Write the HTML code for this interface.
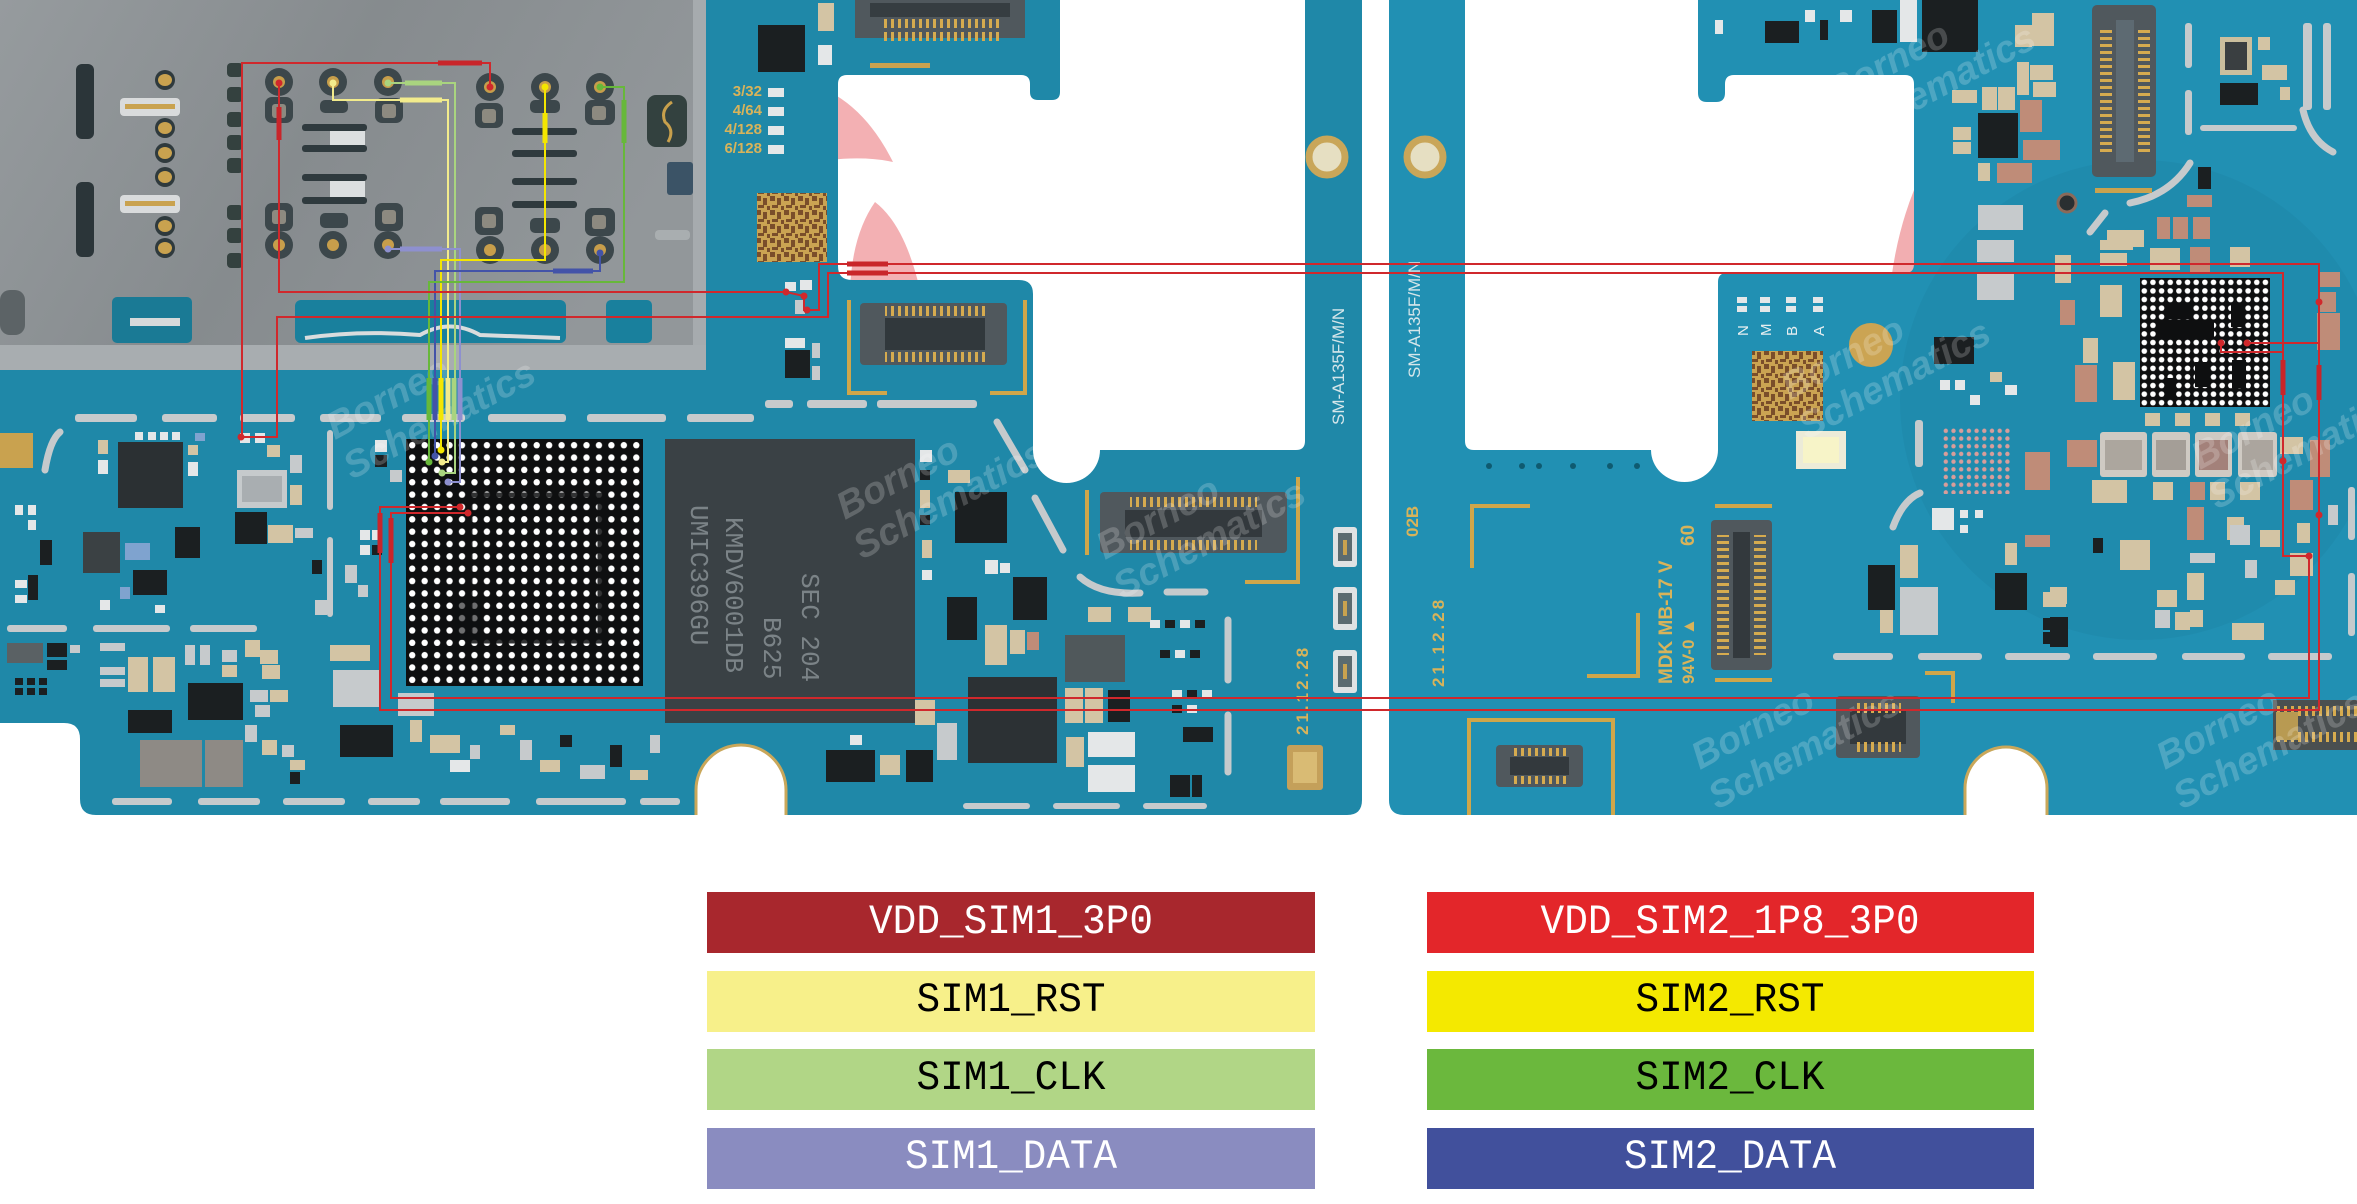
<!DOCTYPE html>
<html><head><meta charset="utf-8">
<style>
html,body{margin:0;padding:0;background:#fff;}
body{width:2357px;height:1204px;overflow:hidden;}
svg{display:block;}
.b{fill:#1b1f21}.g{fill:#3d4548}.s{fill:#c6cacc}.c{fill:#d3c4a4}.p{fill:#bf8c78}.w{fill:#e4e7e8}.au{fill:#c9a24f}.bl{fill:#7fa3cf}
.st{fill:none;stroke:#c6cacc;stroke-width:7;stroke-linecap:round}
.gb{fill:none;stroke:#cfa64a;stroke-width:4}
.silk{font-family:"Liberation Sans",sans-serif;fill:#d8b35a;font-weight:bold}
.wm{font-family:"Liberation Sans",sans-serif;font-weight:bold;font-style:italic;fill:#fff;opacity:0.2}
.lg{font-family:"Liberation Mono",monospace;font-size:42px;text-anchor:middle}
</style></head><body>
<svg width="2357" height="1204" viewBox="0 0 2357 1204" xmlns="http://www.w3.org/2000/svg">
<defs>
<pattern id="bga1" x="406" y="439" width="12.45" height="12.35" patternUnits="userSpaceOnUse"><circle cx="6.2" cy="6.2" r="3.2" fill="#fff"/></pattern>
<pattern id="bga2" x="2140" y="278" width="8.65" height="8.6" patternUnits="userSpaceOnUse"><circle cx="4.3" cy="4.3" r="2.8" fill="#fff"/></pattern>
<pattern id="pk" x="1942" y="427" width="7.7" height="7.7" patternUnits="userSpaceOnUse"><circle cx="3.8" cy="3.8" r="2.2" fill="#d99d9a"/></pattern>
<pattern id="pH" width="7" height="10" patternUnits="userSpaceOnUse"><rect x="2" width="3" height="10" fill="#d6ab4f"/></pattern>
<pattern id="pV" width="10" height="7" patternUnits="userSpaceOnUse"><rect y="2" width="10" height="3" fill="#d6ab4f"/></pattern>
<pattern id="qr" width="14" height="14" patternUnits="userSpaceOnUse"><rect width="14" height="14" fill="#caa352"/><rect width="5" height="5" fill="#7a4e2a"/><rect x="7" y="2" width="4" height="7" fill="#7a4e2a"/><rect x="2" y="9" width="6" height="3" fill="#7a4e2a"/><rect x="11" y="10" width="3" height="4" fill="#7a4e2a"/></pattern>
<linearGradient id="tray" x1="0" y1="0" x2="1" y2="0.3"><stop offset="0" stop-color="#969b9e"/><stop offset="0.5" stop-color="#868b8e"/><stop offset="1" stop-color="#92979a"/></linearGradient>
<clipPath id="rbc"><path d="M1389,0 H1465 V441 Q1465,450 1474,450 H1651 A33.5,32 0 0 0 1718,450 V282 Q1718,273 1727,273 H1905 Q1914,273 1914,264 V84 Q1914,75 1905,75 H1734 Q1725,75 1725,84 V93 Q1725,102 1716,102 H1707 Q1698,102 1698,93 V0 H2357 V815 H2047 V788 A41,41 0 0 0 1965,788 V815 H1404 Q1389,815 1389,800 Z"/></clipPath>
</defs>

<rect width="2357" height="1204" fill="#fff"/>

<!-- pink logo (visible in cutouts) -->
<path d="M830,92 Q868,112 893,162 Q865,156 830,160 Z" fill="#f3b0b3"/>
<path d="M850,290 Q852,235 875,202 Q905,225 920,290 Z" fill="#f3b0b3"/>
<path d="M1914,190 Q1894,240 1889,300 L1914,300 Z" fill="#f2aeb1"/>

<!-- boards -->
<path d="M0,0 H1060 V92 Q1060,100 1052,100 H1038 Q1030,100 1030,92 V84 Q1030,75 1021,75 H847 Q838,75 838,84 V266 Q838,280 852,280 H1019 Q1033,280 1033,294 V450 A33.5,33 0 0 0 1100,450 H1296 Q1305,450 1305,441 V0 H1362 V800 Q1362,815 1347,815 H786 V790 A45,45 0 0 0 696,790 V815 H96 Q80,815 80,799 V739 Q80,723 64,723 H0 Z" fill="#1f88a8"/>
<path d="M1389,0 H1465 V441 Q1465,450 1474,450 H1651 A33.5,32 0 0 0 1718,450 V282 Q1718,273 1727,273 H1905 Q1914,273 1914,264 V84 Q1914,75 1905,75 H1734 Q1725,75 1725,84 V93 Q1725,102 1716,102 H1707 Q1698,102 1698,93 V0 H2357 V815 H2047 V788 A41,41 0 0 0 1965,788 V815 H1404 Q1389,815 1389,800 Z" fill="#2190b3"/>
<g clip-path="url(#rbc)"><circle cx="2140" cy="400" r="240" fill="#063c52" opacity="0.05"/></g>
<path d="M786,815 V790 A45,45 0 0 0 696,790 V815" fill="none" stroke="#c9a75a" stroke-width="3"/>
<path d="M2047,815 V788 A41,41 0 0 0 1965,788 V815" fill="none" stroke="#c9a75a" stroke-width="3"/>

<!-- strip holes -->
<circle cx="1327" cy="157" r="18" fill="#e6dfc2" stroke="#c9a659" stroke-width="7"/>
<circle cx="1425" cy="157" r="18" fill="#e6dfc2" stroke="#c9a659" stroke-width="7"/>

<!-- SIM tray -->
<path d="M0,0 H706 V362 Q706,370 698,370 H0 Z" fill="url(#tray)"/>
<rect x="693" y="0" width="13" height="370" fill="#a6abae"/>
<rect x="0" y="345" width="706" height="25" fill="#a8adb0"/>
<rect x="295" y="300" width="271" height="43" rx="6" fill="#19809d"/>
<rect x="606" y="300" width="46" height="43" rx="5" fill="#19809d"/>
<rect x="112" y="297" width="80" height="46" rx="5" fill="#1a7a95"/>
<rect x="130" y="318" width="50" height="8" fill="#d6d9da"/>
<path d="M305,338 Q360,330 420,335 Q450,318 480,335 L560,338" fill="none" stroke="#d9dcdd" stroke-width="4"/>
<!-- left part of tray -->
<rect x="76" y="64" width="18" height="75" rx="6" fill="#2b3539"/>
<rect x="76" y="182" width="18" height="75" rx="6" fill="#2b3539"/>
<rect x="120" y="98" width="60" height="18" rx="4" fill="#d9dbdc"/><rect x="125" y="104" width="50" height="5" fill="#c9a24f"/>
<rect x="120" y="195" width="60" height="18" rx="4" fill="#d9dbdc"/><rect x="125" y="201" width="50" height="5" fill="#c9a24f"/>
<g fill="#2f3a3d"><circle cx="165" cy="80" r="10"/><circle cx="165" cy="128" r="10"/><circle cx="165" cy="153" r="10"/><circle cx="165" cy="177" r="10"/><circle cx="165" cy="226" r="10"/><circle cx="165" cy="248" r="10"/></g>
<g fill="#c9a24f"><ellipse cx="165" cy="80" rx="7" ry="6"/><ellipse cx="165" cy="128" rx="7" ry="6"/><ellipse cx="165" cy="153" rx="7" ry="6"/><ellipse cx="165" cy="177" rx="7" ry="6"/><ellipse cx="165" cy="226" rx="7" ry="6"/><ellipse cx="165" cy="248" rx="7" ry="6"/></g>
<g fill="#34413f"><rect x="227" y="63" width="16" height="14" rx="4"/><rect x="227" y="87" width="16" height="15" rx="4"/><rect x="227" y="112" width="16" height="15" rx="4"/><rect x="227" y="135" width="16" height="15" rx="4"/><rect x="227" y="158" width="16" height="15" rx="4"/><rect x="227" y="205" width="16" height="15" rx="4"/><rect x="227" y="228" width="16" height="15" rx="4"/><rect x="227" y="253" width="16" height="15" rx="4"/></g>
<rect x="0" y="290" width="25" height="45" rx="10" fill="#5c6366"/>
<!-- contact windows -->
<g fill="#3c474b">
<circle cx="279" cy="82" r="14"/><circle cx="333" cy="82" r="14"/><circle cx="388" cy="82" r="14"/><circle cx="490" cy="87" r="14"/><circle cx="545" cy="87" r="14"/><circle cx="600" cy="87" r="14"/>
<circle cx="279" cy="245" r="14"/><circle cx="333" cy="245" r="14"/><circle cx="388" cy="245" r="14"/><circle cx="490" cy="250" r="14"/><circle cx="545" cy="250" r="14"/><circle cx="600" cy="250" r="14"/>
<rect x="265" y="97" width="28" height="26" rx="7"/><rect x="320" y="100" width="28" height="13" rx="5"/><rect x="375" y="98" width="28" height="25" rx="7"/><rect x="475" y="103" width="28" height="25" rx="7"/><rect x="530" y="100" width="30" height="13" rx="5"/><rect x="585" y="100" width="30" height="25" rx="7"/>
<rect x="265" y="203" width="28" height="28" rx="7"/><rect x="320" y="213" width="28" height="15" rx="5"/><rect x="375" y="203" width="28" height="28" rx="7"/><rect x="475" y="207" width="28" height="28" rx="7"/><rect x="530" y="218" width="30" height="15" rx="5"/><rect x="585" y="208" width="30" height="28" rx="7"/>
</g>
<g fill="#8d8a80"><rect x="272" y="104" width="14" height="14" rx="3"/><rect x="382" y="104" width="14" height="14" rx="3"/><rect x="482" y="109" width="14" height="14" rx="3"/><rect x="592" y="106" width="14" height="14" rx="3"/><rect x="272" y="210" width="14" height="14" rx="3"/><rect x="382" y="210" width="14" height="14" rx="3"/><rect x="482" y="214" width="14" height="14" rx="3"/><rect x="592" y="215" width="14" height="14" rx="3"/></g>
<g fill="#c79e4b"><circle cx="279" cy="82" r="6"/><circle cx="333" cy="82" r="6"/><circle cx="388" cy="82" r="6"/><circle cx="490" cy="87" r="6"/><circle cx="545" cy="87" r="6"/><circle cx="600" cy="87" r="6"/><circle cx="279" cy="245" r="6"/><circle cx="333" cy="245" r="6"/><circle cx="388" cy="245" r="6"/><circle cx="490" cy="250" r="6"/><circle cx="545" cy="250" r="6"/><circle cx="600" cy="250" r="6"/></g>
<g fill="#2f3a3e"><rect x="302" y="124" width="65" height="7" rx="3"/><rect x="302" y="145" width="65" height="7" rx="3"/><rect x="302" y="174" width="65" height="7" rx="3"/><rect x="302" y="197" width="65" height="7" rx="3"/><rect x="512" y="128" width="65" height="7" rx="3"/><rect x="512" y="150" width="65" height="7" rx="3"/><rect x="512" y="178" width="65" height="7" rx="3"/><rect x="512" y="201" width="65" height="7" rx="3"/></g>
<rect x="330" y="131" width="35" height="14" fill="#dcdfe0"/><rect x="330" y="181" width="35" height="16" fill="#dcdfe0"/>
<rect x="647" y="95" width="40" height="52" rx="9" fill="#33413f"/>
<path d="M672,102 Q660,110 665,122 Q675,130 668,142" fill="none" stroke="#c8a04c" stroke-width="3"/>
<rect x="667" y="162" width="26" height="33" rx="3" fill="#3b5366"/>
<rect x="655" y="230" width="35" height="10" rx="4" fill="#a9aeb0"/>

<!-- left board: top right area -->
<rect x="855" y="0" width="170" height="38" fill="#50585d"/>
<rect x="870" y="3" width="140" height="14" fill="#363d41"/>
<rect x="880" y="19" width="120" height="9" fill="url(#pH)"/>
<rect x="880" y="32" width="120" height="9" fill="url(#pH)"/>
<rect x="870" y="63" width="60" height="5" fill="#c9a24f"/>
<rect x="758" y="25" width="47" height="47" class="b"/>
<rect x="818" y="3" width="16" height="28" class="c"/><rect x="818" y="45" width="14" height="20" class="w"/>
<g class="w"><rect x="768" y="88" width="16" height="9"/><rect x="768" y="107" width="16" height="9"/><rect x="768" y="126" width="16" height="9"/><rect x="768" y="145" width="16" height="9"/></g>
<g class="silk" font-size="15" text-anchor="end"><text x="762" y="96">3/32</text><text x="762" y="115">4/64</text><text x="762" y="134">4/128</text><text x="762" y="153">6/128</text></g>
<rect x="757" y="193" width="70" height="69" fill="url(#qr)"/>
<rect x="785" y="282" width="11" height="9" class="w"/><rect x="800" y="280" width="12" height="10" class="w"/>
<rect x="795" y="300" width="10" height="14" class="s"/>
<rect x="785" y="338" width="20" height="10" class="w"/><rect x="785" y="350" width="25" height="28" class="b"/>
<rect x="812" y="343" width="8" height="15" class="s"/><rect x="812" y="366" width="8" height="14" class="s"/>
<rect x="860" y="303" width="147" height="62" rx="4" fill="#50585d"/>
<rect x="885" y="318" width="100" height="32" fill="#31383c"/>
<rect x="885" y="306" width="100" height="10" fill="url(#pH)"/>
<rect x="885" y="352" width="100" height="10" fill="url(#pH)"/>
<path class="gb" d="M849,300 V393 H887 M1025,300 V393 H990"/>
<rect x="765" y="400" width="28" height="8" rx="3" class="s"/><rect x="807" y="400" width="60" height="8" rx="3" class="s"/><rect x="877" y="400" width="100" height="8" rx="3" class="s"/>
<text class="silk" font-size="17" style="fill:#d5e6ea;font-weight:normal" transform="translate(1344,425) rotate(-90)">SM-A135F/M/N</text>
<text class="silk" font-size="17" style="fill:#d5e6ea;font-weight:normal" transform="translate(1420,378) rotate(-90)">SM-A135F/M/N</text>

<!-- left board silver strips -->
<g class="s">
<rect x="75" y="414" width="62" height="8" rx="3"/><rect x="162" y="414" width="55" height="8" rx="3"/><rect x="240" y="414" width="55" height="8" rx="3"/><rect x="320" y="414" width="61" height="8" rx="3"/><rect x="402" y="414" width="63" height="8" rx="3"/><rect x="488" y="414" width="78" height="8" rx="3"/><rect x="587" y="414" width="79" height="8" rx="3"/><rect x="687" y="414" width="67" height="8" rx="3"/>
<rect x="7" y="625" width="60" height="7" rx="3"/><rect x="93" y="625" width="77" height="7" rx="3"/><rect x="190" y="625" width="67" height="7" rx="3"/>
<rect x="112" y="798" width="60" height="7" rx="3"/><rect x="198" y="798" width="62" height="7" rx="3"/><rect x="283" y="798" width="62" height="7" rx="3"/><rect x="368" y="798" width="52" height="7" rx="3"/><rect x="440" y="798" width="70" height="7" rx="3"/><rect x="536" y="798" width="90" height="7" rx="3"/><rect x="640" y="798" width="40" height="7" rx="3"/>
<rect x="963" y="803" width="67" height="6" rx="3"/><rect x="1053" y="803" width="67" height="6" rx="3"/><rect x="1143" y="803" width="64" height="6" rx="3"/>
<rect x="327" y="430" width="6" height="80" rx="3"/><rect x="327" y="537" width="6" height="80" rx="3"/>
</g>
<path class="st" d="M997,422 L1025,470 M1035,498 L1063,550 M1080,577 Q1100,595 1140,593 M1167,592 H1205 M1228,620 V680 M1228,715 V772 M45,470 Q50,440 60,432"/>

<!-- left board components -->
<rect x="0" y="433" width="33" height="35" class="au"/>
<rect x="118" y="442" width="65" height="66" fill="#2b3033"/>
<g class="c"><rect x="98" y="440" width="10" height="14"/><rect x="188" y="445" width="10" height="10"/><rect x="267" y="445" width="13" height="12"/><rect x="290" y="485" width="12" height="20"/><rect x="268" y="525" width="25" height="18"/><rect x="128" y="657" width="20" height="35"/><rect x="153" y="657" width="22" height="35"/><rect x="245" y="640" width="15" height="17"/><rect x="260" y="650" width="18" height="14"/><rect x="262" y="665" width="18" height="14"/><rect x="270" y="690" width="18" height="12"/><rect x="222" y="665" width="15" height="12"/><rect x="262" y="740" width="15" height="15"/><rect x="290" y="760" width="15" height="10"/><rect x="330" y="645" width="40" height="16"/><rect x="410" y="720" width="12" height="22"/><rect x="430" y="735" width="30" height="18"/><rect x="500" y="725" width="15" height="10"/><rect x="540" y="760" width="20" height="12"/><rect x="630" y="770" width="18" height="10"/><rect x="948" y="470" width="22" height="13"/><rect x="920" y="490" width="10" height="18"/><rect x="922" y="540" width="10" height="18"/><rect x="985" y="625" width="22" height="40"/><rect x="1010" y="630" width="15" height="24"/><rect x="1065" y="688" width="18" height="35"/><rect x="1085" y="688" width="18" height="35"/><rect x="1066" y="737" width="18" height="30"/><rect x="1088" y="607" width="23" height="15"/><rect x="1128" y="607" width="23" height="15"/><rect x="880" y="755" width="20" height="20"/><rect x="915" y="700" width="20" height="25"/></g>
<g class="w"><rect x="98" y="460" width="10" height="14"/><rect x="188" y="462" width="10" height="14"/><rect x="135" y="432" width="8" height="8"/><rect x="148" y="432" width="8" height="8"/><rect x="160" y="432" width="8" height="8"/><rect x="172" y="432" width="8" height="8"/><rect x="240" y="433" width="10" height="10"/><rect x="255" y="433" width="10" height="10"/><rect x="15" y="505" width="8" height="10"/><rect x="28" y="505" width="8" height="10"/><rect x="28" y="520" width="8" height="10"/><rect x="15" y="580" width="12" height="8"/><rect x="15" y="595" width="12" height="8"/><rect x="100" y="600" width="10" height="10"/><rect x="155" y="605" width="10" height="8"/><rect x="375" y="440" width="12" height="12"/><rect x="360" y="530" width="10" height="10"/><rect x="372" y="530" width="10" height="10"/><rect x="360" y="545" width="10" height="10"/><rect x="450" y="760" width="20" height="12"/><rect x="920" y="450" width="12" height="12"/><rect x="922" y="570" width="10" height="10"/><rect x="985" y="560" width="13" height="14"/><rect x="1000" y="563" width="10" height="10"/><rect x="1088" y="732" width="47" height="25"/><rect x="1088" y="765" width="47" height="27"/><rect x="850" y="735" width="12" height="10"/><rect x="1150" y="620" width="10" height="8"/><rect x="1180" y="620" width="10" height="8"/><rect x="1175" y="650" width="10" height="8"/><rect x="1172" y="690" width="10" height="8"/><rect x="1202" y="690" width="10" height="8"/><rect x="1187" y="705" width="10" height="8"/></g>
<g class="s"><rect x="237" y="470" width="50" height="38"/><rect x="295" y="528" width="18" height="10"/><rect x="185" y="645" width="10" height="20"/><rect x="200" y="645" width="10" height="20"/><rect x="222" y="650" width="15" height="12"/><rect x="250" y="690" width="18" height="12"/><rect x="255" y="705" width="15" height="12"/><rect x="245" y="725" width="12" height="17"/><rect x="282" y="745" width="12" height="12"/><rect x="333" y="670" width="47" height="37"/><rect x="315" y="600" width="12" height="15"/><rect x="345" y="565" width="12" height="18"/><rect x="358" y="585" width="10" height="12"/><rect x="390" y="470" width="12" height="12"/><rect x="100" y="643" width="25" height="8"/><rect x="100" y="667" width="25" height="8"/><rect x="100" y="679" width="25" height="8"/><rect x="70" y="645" width="10" height="8"/><rect x="398" y="693" width="36" height="23"/><rect x="470" y="745" width="10" height="14"/><rect x="520" y="740" width="12" height="20"/><rect x="580" y="765" width="25" height="14"/><rect x="650" y="735" width="10" height="18"/><rect x="937" y="723" width="20" height="37"/><rect x="290" y="455" width="12" height="18"/></g>
<rect x="242" y="476" width="40" height="26" fill="#a9aeb1"/>
<g class="b"><rect x="235" y="512" width="32" height="32"/><rect x="133" y="570" width="34" height="25"/><rect x="175" y="527" width="25" height="31"/><rect x="40" y="540" width="12" height="25"/><rect x="28" y="575" width="10" height="25"/><rect x="47" y="643" width="20" height="14"/><rect x="47" y="660" width="20" height="10"/><rect x="188" y="683" width="55" height="37"/><rect x="128" y="710" width="44" height="23"/><rect x="312" y="560" width="10" height="14"/><rect x="375" y="455" width="12" height="12"/><rect x="372" y="545" width="10" height="10"/><rect x="340" y="725" width="53" height="32"/><rect x="290" y="772" width="10" height="12"/><rect x="560" y="735" width="12" height="12"/><rect x="610" y="745" width="12" height="22"/><rect x="15" y="678" width="8" height="7"/><rect x="27" y="678" width="8" height="7"/><rect x="39" y="678" width="8" height="7"/><rect x="15" y="688" width="8" height="7"/><rect x="27" y="688" width="8" height="7"/><rect x="39" y="688" width="8" height="7"/><rect x="920" y="470" width="10" height="10"/><rect x="920" y="515" width="10" height="10"/><rect x="955" y="492" width="52" height="51"/><rect x="947" y="597" width="30" height="43"/><rect x="1013" y="577" width="34" height="43"/><rect x="1108" y="690" width="22" height="32"/><rect x="826" y="750" width="49" height="32"/><rect x="906" y="750" width="27" height="32"/><rect x="1165" y="620" width="10" height="8"/><rect x="1195" y="620" width="10" height="8"/><rect x="1160" y="650" width="10" height="8"/><rect x="1190" y="650" width="10" height="8"/><rect x="1187" y="690" width="10" height="8"/><rect x="1172" y="705" width="10" height="8"/><rect x="1183" y="727" width="30" height="15"/><rect x="1170" y="775" width="20" height="22"/><rect x="1192" y="775" width="10" height="22"/></g>
<rect x="83" y="532" width="37" height="41" fill="#3b4144"/>
<rect x="7" y="643" width="36" height="20" fill="#5a6164"/>
<g class="bl"><rect x="125" y="543" width="25" height="17"/><rect x="120" y="587" width="10" height="12"/><rect x="195" y="433" width="10" height="8"/></g>
<rect x="140" y="740" width="62" height="47" fill="#8e8a85"/><rect x="205" y="740" width="38" height="47" fill="#8e8a85"/>
<rect x="1027" y="632" width="12" height="18" class="p"/>
<rect x="968" y="677" width="89" height="86" fill="#2c3134"/>
<rect x="1065" y="635" width="60" height="47" fill="#50585b"/>
<!-- connector right of left board -->
<rect x="1100" y="492" width="187" height="61" rx="4" fill="#50585d"/>
<rect x="1125" y="510" width="137" height="27" fill="#33393d"/>
<rect x="1130" y="497" width="127" height="10" fill="url(#pH)"/>
<rect x="1130" y="540" width="127" height="10" fill="url(#pH)"/>
<path class="gb" d="M1087,490 V555 M1298,477 V582 H1245"/>
<g><rect x="1333" y="527" width="24" height="40" rx="3" fill="#dfe2e3"/><rect x="1338" y="533" width="14" height="28" fill="#5b6b70"/><rect x="1343" y="540" width="4" height="15" fill="#c9a24f"/>
<rect x="1333" y="587" width="24" height="43" rx="3" fill="#dfe2e3"/><rect x="1338" y="593" width="14" height="31" fill="#5b6b70"/><rect x="1343" y="601" width="4" height="15" fill="#c9a24f"/>
<rect x="1333" y="650" width="24" height="43" rx="3" fill="#dfe2e3"/><rect x="1338" y="656" width="14" height="31" fill="#5b6b70"/><rect x="1343" y="664" width="4" height="15" fill="#c9a24f"/></g>
<rect x="1287" y="745" width="36" height="45" rx="3" fill="#c4a05a"/><rect x="1293" y="752" width="24" height="31" fill="#d9bb74"/>
<text class="silk" font-size="17" letter-spacing="3" transform="translate(1308,735) rotate(-90)">21.12.28</text>

<!-- memory chip -->
<rect x="665" y="439" width="250" height="284" fill="#3a4145"/>
<g font-family="Liberation Mono,monospace" font-size="26" fill="#7b8387">
<text transform="translate(802,573) rotate(90)">SEC 204</text>
<text transform="translate(764,617) rotate(90)">B625</text>
<text transform="translate(726,517) rotate(90)">KMDV6001DB</text>
<text transform="translate(691,505) rotate(90)">UMIC396GU</text>
</g>

<!-- left BGA -->
<rect x="406" y="439" width="237" height="247" fill="#0e0f10"/>
<rect x="406" y="439" width="237" height="247" fill="url(#bga1)"/>
<rect x="470" y="495" width="130" height="146" fill="none" stroke="#0e0f10" stroke-width="5" opacity="0.85"/>
<rect x="455" y="600" width="26" height="40" fill="#0e0f10" opacity="0.6"/>

<!-- right board components -->
<g class="b"><rect x="1922" y="0" width="56" height="52"/><rect x="1872" y="10" width="25" height="33"/><rect x="1765" y="21" width="34" height="22"/><rect x="1820" y="20" width="8" height="20"/><rect x="1978" y="113" width="40" height="45"/><rect x="2220" y="83" width="38" height="22"/><rect x="2198" y="167" width="13" height="22"/><rect x="1934" y="337" width="40" height="27"/><rect x="1995" y="573" width="32" height="37"/><rect x="1868" y="565" width="27" height="45"/><rect x="2043" y="618" width="25" height="12"/><rect x="2043" y="632" width="25" height="12"/><rect x="2093" y="540" width="8" height="12"/><rect x="2050" y="617" width="18" height="30"/><rect x="2093" y="538" width="10" height="15"/></g>
<g class="w"><rect x="1900" y="0" width="17" height="42"/><rect x="1715" y="20" width="8" height="14"/><rect x="1805" y="10" width="10" height="12"/><rect x="1840" y="10" width="12" height="12"/><rect x="1932" y="508" width="22" height="22"/><rect x="1960" y="510" width="8" height="8"/><rect x="1975" y="510" width="8" height="8"/><rect x="1960" y="525" width="8" height="8"/><rect x="1940" y="380" width="10" height="10"/><rect x="1955" y="380" width="10" height="10"/><rect x="1970" y="395" width="10" height="10"/><rect x="2005" y="385" width="12" height="10"/><rect x="2290" y="555" width="12" height="12"/></g>
<g class="c"><rect x="2015" y="25" width="17" height="22"/><rect x="2032" y="13" width="22" height="33"/><rect x="2030" y="65" width="23" height="15"/><rect x="2033" y="82" width="23" height="15"/><rect x="2017" y="62" width="12" height="33"/><rect x="1952" y="90" width="25" height="13"/><rect x="1982" y="87" width="15" height="23"/><rect x="1998" y="87" width="17" height="23"/><rect x="1953" y="127" width="18" height="13"/><rect x="1953" y="142" width="18" height="12"/><rect x="1978" y="163" width="12" height="18"/><rect x="2258" y="37" width="12" height="13"/><rect x="2262" y="65" width="25" height="15"/><rect x="2280" y="87" width="10" height="13"/><rect x="2107" y="230" width="37" height="17"/><rect x="2100" y="253" width="27" height="13"/><rect x="2100" y="240" width="33" height="10"/><rect x="2150" y="248" width="30" height="22"/><rect x="2230" y="247" width="20" height="20"/><rect x="2100" y="285" width="22" height="32"/><rect x="2083" y="338" width="15" height="25"/><rect x="2113" y="362" width="22" height="38"/><rect x="2145" y="413" width="15" height="13"/><rect x="2175" y="413" width="15" height="13"/><rect x="2205" y="413" width="15" height="13"/><rect x="2235" y="413" width="15" height="13"/><rect x="2092" y="480" width="35" height="23"/><rect x="2153" y="482" width="20" height="18"/><rect x="2210" y="482" width="15" height="18"/><rect x="2240" y="482" width="20" height="18"/><rect x="2280" y="437" width="23" height="17"/><rect x="2227" y="517" width="17" height="23"/><rect x="2260" y="530" width="20" height="17"/><rect x="2120" y="540" width="30" height="30"/><rect x="2187" y="573" width="17" height="27"/><rect x="2190" y="610" width="13" height="17"/><rect x="2232" y="623" width="32" height="17"/><rect x="2157" y="590" width="20" height="17"/><rect x="2050" y="587" width="17" height="17"/><rect x="1900" y="545" width="18" height="33"/><rect x="1880" y="610" width="13" height="23"/><rect x="2005" y="543" width="12" height="22"/><rect x="2043" y="592" width="23" height="15"/><rect x="2290" y="553" width="23" height="23"/><rect x="2297" y="523" width="13" height="20"/><rect x="2055" y="255" width="16" height="28"/><rect x="1990" y="372" width="12" height="10"/><rect x="2175" y="612" width="15" height="18"/><rect x="2275" y="580" width="20" height="15"/></g>
<g class="p"><rect x="2020" y="100" width="22" height="32"/><rect x="2023" y="140" width="37" height="20"/><rect x="1997" y="163" width="35" height="20"/><rect x="2187" y="195" width="25" height="12"/><rect x="2157" y="217" width="13" height="22"/><rect x="2173" y="217" width="15" height="22"/><rect x="2193" y="217" width="17" height="22"/><rect x="2190" y="247" width="20" height="25"/><rect x="2320" y="272" width="20" height="15"/><rect x="2317" y="313" width="23" height="37"/><rect x="2318" y="292" width="18" height="20"/><rect x="2075" y="365" width="22" height="37"/><rect x="2067" y="440" width="30" height="27"/><rect x="2190" y="482" width="15" height="18"/><rect x="2310" y="440" width="20" height="37"/><rect x="2290" y="480" width="23" height="30"/><rect x="2187" y="507" width="17" height="33"/><rect x="2025" y="535" width="25" height="12"/><rect x="2025" y="452" width="25" height="38"/><rect x="2060" y="300" width="15" height="25"/></g>
<g class="s"><rect x="1978" y="205" width="45" height="25"/><rect x="1977" y="240" width="37" height="22"/><rect x="1977" y="273" width="37" height="27"/><rect x="2185" y="23" width="7" height="45" rx="3"/><rect x="2185" y="90" width="7" height="45" rx="3"/><rect x="2303" y="23" width="9" height="87" rx="3"/><rect x="2323" y="23" width="8" height="87" rx="3"/><rect x="2200" y="125" width="97" height="6" rx="3"/><rect x="1915" y="420" width="8" height="47" rx="3"/><rect x="2348" y="487" width="7" height="53" rx="3"/><rect x="2348" y="573" width="7" height="63" rx="3"/><rect x="1900" y="587" width="38" height="48"/><rect x="2155" y="610" width="15" height="18"/><rect x="2230" y="525" width="20" height="20"/><rect x="2245" y="560" width="12" height="18"/><rect x="2328" y="505" width="10" height="20"/><rect x="2190" y="553" width="25" height="10"/>
<rect x="1918" y="653" width="64" height="7" rx="3"/><rect x="2005" y="653" width="65" height="7" rx="3"/><rect x="2093" y="653" width="64" height="7" rx="3"/><rect x="2182" y="653" width="63" height="7" rx="3"/><rect x="2268" y="653" width="64" height="7" rx="3"/><rect x="1833" y="653" width="60" height="7" rx="3"/></g>
<path class="st" d="M1893,527 Q1903,500 1920,493 M2303,110 Q2310,140 2333,152 M2130,203 Q2170,195 2190,163 M2090,232 L2105,213"/>
<rect x="2095" y="188" width="57" height="5" class="au"/>
<circle cx="2067" cy="203" r="9" fill="#2a2f31" stroke="#8a6a5a" stroke-width="3"/>
<rect x="2220" y="37" width="32" height="38" fill="#cbbf9e"/><rect x="2225" y="42" width="22" height="28" fill="#3a3f41"/>
<!-- right vertical connector top -->
<rect x="2092" y="5" width="64" height="172" rx="5" fill="#50585d"/>
<rect x="2116" y="20" width="18" height="142" fill="#5d6a72"/>
<rect x="2100" y="28" width="12" height="125" fill="url(#pV)"/>
<rect x="2138" y="28" width="12" height="125" fill="url(#pV)"/>
<!-- right BGA -->
<rect x="2140" y="278" width="130" height="129" fill="#0e0f10"/>
<rect x="2140" y="278" width="130" height="129" fill="url(#bga2)"/>
<g fill="#0e0f10"><rect x="2166" y="303" width="26" height="16"/><rect x="2158" y="320" width="56" height="18"/><rect x="2231" y="303" width="14" height="24"/><rect x="2195" y="362" width="14" height="25"/><rect x="2232" y="360" width="14" height="28"/><rect x="2166" y="378" width="10" height="20"/></g>
<!-- inductors -->
<g fill="#cfcac3"><rect x="2100" y="432" width="47" height="45" rx="3"/><rect x="2152" y="432" width="38" height="45" rx="3"/><rect x="2195" y="432" width="37" height="45" rx="3"/><rect x="2238" y="432" width="39" height="45" rx="3"/></g>
<rect x="2105" y="440" width="37" height="30" fill="#aca69e"/><rect x="2156" y="440" width="30" height="30" fill="#a49e97"/><rect x="2199" y="440" width="29" height="30" fill="#a3817a"/><rect x="2242" y="440" width="31" height="30" fill="#aba59e"/>
<!-- pink dot BGA -->
<rect x="1942" y="427" width="68" height="67" fill="url(#pk)"/>
<!-- right bottom connector -->
<rect x="2273" y="700" width="84" height="50" fill="#4a4f50"/>
<rect x="2273" y="706" width="84" height="10" fill="url(#pH)"/><rect x="2273" y="732" width="84" height="10" fill="url(#pH)"/>
<rect x="2276" y="712" width="22" height="28" fill="#b89a52"/>
<!-- right board left part -->
<rect x="1836" y="696" width="84" height="62" rx="4" fill="#50585d"/>
<rect x="1850" y="710" width="56" height="34" fill="#33393d"/>
<rect x="1855" y="703" width="46" height="10" fill="url(#pH)"/><rect x="1855" y="742" width="46" height="10" fill="url(#pH)"/>
<rect x="1496" y="745" width="87" height="42" rx="4" fill="#50585d"/>
<rect x="1510" y="757" width="59" height="18" fill="#33393d"/>
<rect x="1512" y="748" width="56" height="8" fill="url(#pH)"/><rect x="1512" y="776" width="56" height="8" fill="url(#pH)"/>
<rect x="1711" y="520" width="61" height="150" rx="4" fill="#50585d"/>
<rect x="1733" y="532" width="17" height="126" fill="#33393d"/>
<rect x="1717" y="535" width="12" height="120" fill="url(#pV)"/><rect x="1754" y="535" width="12" height="120" fill="url(#pV)"/>
<path class="gb" d="M1472,568 V506 H1530 M1587,676 H1638 V613 M1469,815 V720 H1613 V815 M1715,506 H1772 M1715,680 H1772 M1925,673 H1953 V703"/>
<rect x="1752" y="351" width="71" height="70" fill="url(#qr)"/>
<circle cx="1871" cy="345" r="22" fill="#cba453"/>
<rect x="1796" y="431" width="50" height="38" fill="#ecebd8"/><rect x="1803" y="437" width="36" height="26" fill="#f7f4c8"/>
<g fill="#0f5a70"><circle cx="1489" cy="466" r="3"/><circle cx="1522" cy="466" r="3"/><circle cx="1539" cy="466" r="3"/><circle cx="1573" cy="466" r="3"/><circle cx="1610" cy="466" r="3"/><circle cx="1637" cy="466" r="3"/></g>
<g class="w"><rect x="1737" y="297" width="10" height="6"/><rect x="1737" y="306" width="10" height="6"/><rect x="1760" y="297" width="10" height="6"/><rect x="1760" y="306" width="10" height="6"/><rect x="1786" y="297" width="10" height="6"/><rect x="1786" y="306" width="10" height="6"/><rect x="1813" y="297" width="10" height="6"/><rect x="1813" y="306" width="10" height="6"/></g>
<g font-family="Liberation Sans,sans-serif" font-size="15" fill="#e6eef0"><text transform="translate(1748,336) rotate(-90)">N</text><text transform="translate(1771,336) rotate(-90)">M</text><text transform="translate(1797,336) rotate(-90)">B</text><text transform="translate(1824,336) rotate(-90)">A</text></g>
<text class="silk" font-size="17" transform="translate(1418,537) rotate(-90)">02B</text>
<text class="silk" font-size="17" letter-spacing="3" transform="translate(1444,687) rotate(-90)">21.12.28</text>
<text class="silk" font-size="19" transform="translate(1672,684) rotate(-90)">MDK MB-17 V</text>
<text class="silk" font-size="17" transform="translate(1694,684) rotate(-90)">94V-0 ▲</text>
<text class="silk" font-size="19" transform="translate(1694,546) rotate(-90)">60</text>

<!-- watermarks -->
<g class="wm" font-size="38">
<text transform="translate(335,440) rotate(-28)">Borneo</text><text transform="translate(352,480) rotate(-28)">Schematics</text>
<text transform="translate(845,520) rotate(-28)">Borneo</text><text transform="translate(862,560) rotate(-28)">Schematics</text>
<text transform="translate(1105,560) rotate(-28)">Borneo</text><text transform="translate(1122,600) rotate(-28)">Schematics</text>
<text transform="translate(1700,770) rotate(-28)">Borneo</text><text transform="translate(1717,810) rotate(-28)">Schematics</text>
<text transform="translate(1790,400) rotate(-28)">Borneo</text><text transform="translate(1807,440) rotate(-28)">Schematics</text>
<text transform="translate(2165,770) rotate(-28)">Borneo</text><text transform="translate(2182,810) rotate(-28)">Schematics</text>
<text transform="translate(1835,105) rotate(-28)">Borneo</text><text transform="translate(1852,145) rotate(-28)">Schematics</text>
<text transform="translate(2200,470) rotate(-28)">Borneo</text><text transform="translate(2217,510) rotate(-28)">Schematics</text>
</g>

<!-- SIM signal traces -->
<g fill="none" stroke-width="2">
<path d="M388,83 H455 V473 H442" stroke="#a9d47f"/>
<path d="M333,83 V100 H448 V462 H442" stroke="#f2eb8c"/>
<path d="M388,249 H460 V482 H448" stroke="#8e90cf"/>
<path d="M545,87 V260 H441 V450" stroke="#f4e600"/>
<path d="M600,253 V271 H435 V456" stroke="#4353a8"/>
<path d="M600,87 H624 V282 H429 V462" stroke="#67b83a"/>
</g>
<g stroke-width="5" fill="none">
<path d="M405,83 H442" stroke="#a9d47f"/><path d="M400,100 H442" stroke="#f2eb8c"/><path d="M400,249 H442" stroke="#8e90cf"/><path d="M545,113 V143" stroke="#f4e600"/><path d="M553,271 H593" stroke="#4353a8"/><path d="M624,100 V143" stroke="#67b83a"/>
<path d="M429,378 V420" stroke="#67b83a"/><path d="M435,378 V420" stroke="#4353a8"/><path d="M441,378 V420" stroke="#f4e600"/><path d="M448,378 V420" stroke="#f2eb8c"/><path d="M454,378 V420" stroke="#a9d47f"/><path d="M460,378 V420" stroke="#8e90cf"/>
</g>
<g>
<circle cx="388" cy="83" r="3.5" fill="#a9d47f"/><circle cx="442" cy="473" r="3.5" fill="#a9d47f"/>
<circle cx="333" cy="83" r="3.5" fill="#f2eb8c"/><circle cx="442" cy="462" r="3.5" fill="#f2eb8c"/>
<circle cx="388" cy="249" r="3.5" fill="#8e90cf"/><circle cx="448" cy="482" r="3.5" fill="#8e90cf"/>
<circle cx="545" cy="87" r="3.5" fill="#f4e600"/><circle cx="441" cy="450" r="3.5" fill="#f4e600"/>
<circle cx="600" cy="253" r="3.5" fill="#4353a8"/><circle cx="435" cy="456" r="3.5" fill="#4353a8"/>
<circle cx="600" cy="87" r="3.5" fill="#67b83a"/><circle cx="429" cy="462" r="3.5" fill="#67b83a"/>
</g>

<!-- red VDD traces -->
<g fill="none" stroke="#d0282c" stroke-width="2">
<path d="M279,83 V292 H786 L804,296 V310 H819 V264 H2319 V710 H380 V507 H460"/>
<path d="M2319,343 H2247"/>
<path d="M490,87 V63 H242 V437 H277 V317 H828 V273 H2283 V556 H2309 V698 H391 V513 H468"/>
<path d="M2283,352 H2221 V343"/>
</g>
<g fill="none" stroke="#c9252a" stroke-width="5">
<path d="M438,63 H482 M279,107 V140 M380,513 V553 M391,518 V563 M2283,360 V395 M2319,365 V400 M847,264 H888 M847,273 H888"/>
</g>
<g fill="#d0282c">
<circle cx="279" cy="83" r="3.5"/><circle cx="490" cy="87" r="3.5"/><circle cx="786" cy="292" r="3.5"/><circle cx="804" cy="296" r="3.5"/><circle cx="807" cy="310" r="3.5"/><circle cx="241" cy="437" r="3.5"/><circle cx="460" cy="507" r="3.5"/><circle cx="468" cy="513" r="3.5"/><circle cx="2319" cy="302" r="3.5"/><circle cx="2319" cy="515" r="3.5"/><circle cx="2283" cy="461" r="3.5"/><circle cx="2309" cy="556" r="3.5"/><circle cx="2247" cy="343" r="3.5"/><circle cx="2221" cy="343" r="3.5"/>
</g>

<!-- legend -->
<rect x="707" y="892" width="608" height="61" fill="#a8272d"/>
<rect x="707" y="971" width="608" height="61" fill="#f7f08a"/>
<rect x="707" y="1049" width="608" height="61" fill="#b1d686"/>
<rect x="707" y="1128" width="608" height="61" fill="#8a8cc0"/>
<rect x="1427" y="892" width="607" height="61" fill="#e3262a"/>
<rect x="1427" y="971" width="607" height="61" fill="#f4e900"/>
<rect x="1427" y="1049" width="607" height="61" fill="#6bb83d"/>
<rect x="1427" y="1128" width="607" height="61" fill="#41509c"/>
<text class="lg" x="1011" y="933" fill="#fff" textLength="284" lengthAdjust="spacingAndGlyphs">VDD_SIM1_3P0</text>
<text class="lg" x="1011" y="1011" fill="#000" textLength="189" lengthAdjust="spacingAndGlyphs">SIM1_RST</text>
<text class="lg" x="1011" y="1089" fill="#000" textLength="189" lengthAdjust="spacingAndGlyphs">SIM1_CLK</text>
<text class="lg" x="1011" y="1168" fill="#fff" textLength="212" lengthAdjust="spacingAndGlyphs">SIM1_DATA</text>
<text class="lg" x="1730" y="933" fill="#fff" textLength="379" lengthAdjust="spacingAndGlyphs">VDD_SIM2_1P8_3P0</text>
<text class="lg" x="1730" y="1011" fill="#000" textLength="189" lengthAdjust="spacingAndGlyphs">SIM2_RST</text>
<text class="lg" x="1730" y="1089" fill="#000" textLength="189" lengthAdjust="spacingAndGlyphs">SIM2_CLK</text>
<text class="lg" x="1730" y="1168" fill="#fff" textLength="212" lengthAdjust="spacingAndGlyphs">SIM2_DATA</text>
</svg>
</body></html>
